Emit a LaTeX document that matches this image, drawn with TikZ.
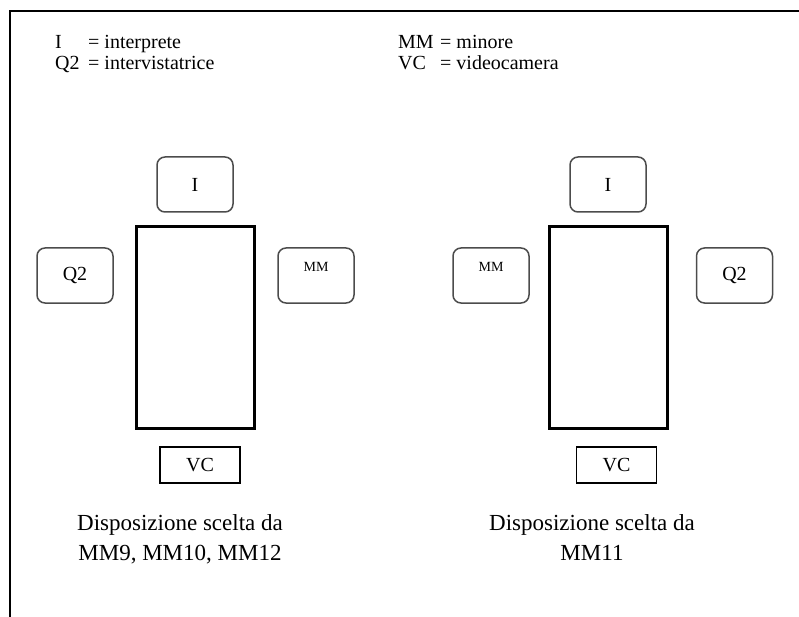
\documentclass[tikz,border=0pt]{standalone}
\usepackage{fontspec}
\setmainfont{Liberation Serif}
\tikzset{
  seat/.style={draw=black!70,line width=1.5pt,rounded corners=8pt,minimum width=76pt,minimum height=55pt,font=\fontsize{20}{22}\selectfont},
  minor/.style={seat,font=\fontsize{14}{16}\selectfont,text height=9pt,text depth=16pt},
  tabletop/.style={draw,line width=3pt,minimum width=118pt,minimum height=201pt},
  camera/.style={draw,line width=1.2pt,minimum width=80pt,minimum height=36pt,font=\fontsize{20}{22}\selectfont},
  legend/.style={anchor=base west,inner sep=0pt,font=\fontsize{20}{22}\selectfont},
  caption/.style={anchor=north,align=center,font=\fontsize{23}{30}\selectfont}
}
\begin{document}
\begin{tikzpicture}[x=1pt,y=-1pt]
  \useasboundingbox (0,0) rectangle (799,617);
  \draw[line width=2pt] (799,11) -- (10,11) -- (10,617);
  % legend
  \node[legend](kI) at (55,49) {I};
  \node[legend](kIt) at (88,49) {= interprete};
  \node[legend](kQ) at (55,70) {Q2};
  \node[legend](kQt) at (88,70) {= intervistatrice};
  \node[legend](kM) at (398,49) {MM};
  \node[legend](kMt) at (440,49) {= minore};
  \node[legend](kV) at (398,70) {VC};
  \node[legend](kVt) at (440,70) {= videocamera};
  % first arrangement
  \node[seat](I1) at (195,184.5) {I};
  \node[tabletop](T1) at (195,327.5) {};
  \node[seat](Q1) at (75,275.5) {Q2};
  \node[minor](M1) at (316,275.5) {MM};
  \node[camera](V1) at (200,465) {VC};
  \node[caption](C1) at (180,511) {Disposizione scelta da\\MM9, MM10, MM12};
  % second arrangement
  \node[seat](I2) at (608,184.5) {I};
  \node[tabletop](T2) at (608,327.5) {};
  \node[minor](M2) at (491,275.5) {MM};
  \node[seat](Q2) at (734.5,275.5) {Q2};
  \node[camera](V2) at (616.5,465) {VC};
  \node[caption](C2) at (592,511) {Disposizione scelta da\\MM11};
\end{tikzpicture}
\end{document}
